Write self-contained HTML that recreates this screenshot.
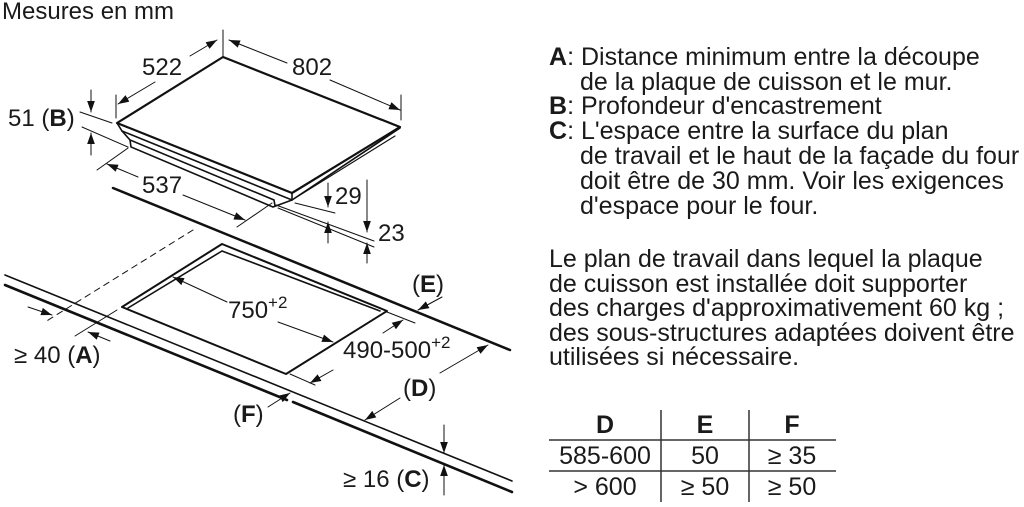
<!DOCTYPE html>
<html><head><meta charset="utf-8"><style>
html,body{margin:0;padding:0;background:#fff;}
svg{display:block;}
text{font-family:"Liberation Sans",Arial,sans-serif;fill:#1a1a1a;}
</style></head><body>
<svg width="1024" height="507" viewBox="0 0 1024 507" xmlns="http://www.w3.org/2000/svg">
<defs>
<marker id="a" viewBox="0 0 10 10" refX="10" refY="5" markerWidth="11" markerHeight="11" markerUnits="userSpaceOnUse" orient="auto"><path d="M0,1.5 L10,5 L0,8.5z" fill="#111"/></marker>
</defs>
<text x="2" y="19" font-size="24">Mesures en mm</text>

<g stroke="#111" fill="none" stroke-linecap="round">
<!-- hob top -->
<path d="M223,57 L400,127 L292,193 L117,123 Z" stroke-width="2.2" stroke-linejoin="round"/>
<path d="M117,123 L122,131 L292,200 L400,128" stroke-width="1.6"/>
<path d="M292,193 L292,200" stroke-width="1.6"/>
<path d="M122,131 L130,140 L274,200 L275,206" stroke-width="1.6"/>
<path d="M130,140 L131,147 L273,207 L292,200" stroke-width="1.6"/>
<path d="M395,136 L292,200" stroke-width="1.2"/>
<!-- dims 522 / 802 -->
<path d="M223,30 L223,57" stroke-width="1"/>
<path d="M116,95 L116,118" stroke-width="1"/>
<path d="M401,95 L401,120" stroke-width="1"/>
<path d="M190,56 L217,40" stroke-width="1" marker-end="url(#a)"/>
<path d="M155,82 L118,104" stroke-width="1" marker-end="url(#a)"/>
<path d="M287,63 L229,40" stroke-width="1" marker-end="url(#a)"/>
<path d="M330,80 L400,110" stroke-width="1" marker-end="url(#a)"/>
<!-- 51 B -->
<path d="M80,112 L112,123" stroke-width="1"/>
<path d="M82,127 L128,147" stroke-width="1"/>
<path d="M91,90 L91,112" stroke-width="1" marker-end="url(#a)"/>
<path d="M91,155 L91,133" stroke-width="1" marker-end="url(#a)"/>
<!-- 537 -->
<path d="M97,170 L128,148" stroke-width="1"/>
<path d="M237,227 L272,203" stroke-width="1"/>
<path d="M138,177 L107,164" stroke-width="1" marker-end="url(#a)"/>
<path d="M183,195 L245,220" stroke-width="1" marker-end="url(#a)"/>
<!-- 29 / 23 -->
<path d="M295,203 L335,213" stroke-width="1"/>
<path d="M276,205 L374,241" stroke-width="1"/>
<path d="M278,208 L374,247" stroke-width="1"/>
<path d="M328,183 L328,207" stroke-width="1" marker-end="url(#a)"/>
<path d="M328,243 L328,222" stroke-width="1" marker-end="url(#a)"/>
<path d="M367,180 L367,232" stroke-width="1" marker-end="url(#a)"/>
<path d="M367,263 L367,243" stroke-width="1" marker-end="url(#a)"/>
<!-- worktop back -->
<path d="M113,188 L510,350" stroke-width="2.5"/>
<!-- dashed -->
<path d="M193,230 L45,322" stroke-width="1" stroke-dasharray="6,5"/>
<!-- front worktop -->
<path d="M5,275 L512,481" stroke-width="1.6"/>
<path d="M5,285 L287,400 M293,402 L512,492" stroke-width="2.6"/>
<!-- cutout -->
<path d="M222,244 L387,311 L286,374 L122,307 Z" stroke-width="2" stroke-linejoin="round"/>
<path d="M222,251 L380,311 M222,251 L128,308" stroke-width="1.6"/>
<!-- 750 -->
<path d="M227,302 L173,277" stroke-width="1" marker-end="url(#a)"/>
<path d="M278,322 L333,342" stroke-width="1" marker-end="url(#a)"/>
<!-- 490-500 -->
<path d="M387,312 L415,323" stroke-width="1"/>
<path d="M290,374 L315,385" stroke-width="1"/>
<path d="M383,333 L403,320" stroke-width="1" marker-end="url(#a)"/>
<path d="M333,370 L310,383" stroke-width="1" marker-end="url(#a)"/>
<!-- E -->
<path d="M442,297 L418,310" stroke-width="1" marker-end="url(#a)"/>
<!-- D -->
<path d="M440,373 L488,345" stroke-width="1" marker-end="url(#a)"/>
<path d="M400,398 L365,420" stroke-width="1" marker-end="url(#a)"/>
<!-- F -->
<path d="M268,407 L290,393" stroke-width="1" marker-end="url(#a)"/>
<!-- A -->
<path d="M28,307 L52,315" stroke-width="1" marker-end="url(#a)"/>
<path d="M75,336 L117,310" stroke-width="1"/>
<path d="M110,341 L88,332" stroke-width="1" marker-end="url(#a)"/>
<!-- C -->
<path d="M444,425 L444,453" stroke-width="1" marker-end="url(#a)"/>
<path d="M444,495 L444,465" stroke-width="1" marker-end="url(#a)"/>
</g>

<g font-size="24">
<text x="142" y="75">522</text>
<text x="292" y="75">802</text>
<text x="8" y="126">51 (<tspan font-weight="bold">B</tspan>)</text>
<text x="142" y="193">537</text>
<text x="335" y="204">29</text>
<text x="378" y="241">23</text>
<text x="228" y="318">750<tspan font-size="17" dy="-10">+2</tspan></text>
<text x="343" y="358">490-500<tspan font-size="17" dy="-10">+2</tspan></text>
<text x="412" y="292">(<tspan font-weight="bold">E</tspan>)</text>
<text x="403" y="396">(<tspan font-weight="bold">D</tspan>)</text>
<text x="233" y="422">(<tspan font-weight="bold">F</tspan>)</text>
<text x="14" y="363">≥ 40 (<tspan font-weight="bold">A</tspan>)</text>
<text x="343" y="487">≥ 16 (<tspan font-weight="bold">C</tspan>)</text>
</g>

<g font-size="25">
<text x="549" y="65"><tspan font-weight="bold">A</tspan>: Distance minimum entre la découpe</text>
<text x="580" y="90">de la plaque de cuisson et le mur.</text>
<text x="549" y="114"><tspan font-weight="bold">B</tspan>: Profondeur d'encastrement</text>
<text x="549" y="139"><tspan font-weight="bold">C</tspan>: L'espace entre la surface du plan</text>
<text x="580" y="164">de travail et le haut de la façade du four</text>
<text x="580" y="189">doit être de 30 mm. Voir les exigences</text>
<text x="580" y="214">d'espace pour le four.</text>
<text x="549" y="267">Le plan de travail dans lequel la plaque</text>
<text x="549" y="292">de cuisson est installée doit supporter</text>
<text x="549" y="316">des charges d'approximativement 60 kg ;</text>
<text x="549" y="341">des sous-structures adaptées doivent être</text>
<text x="549" y="365">utilisées si nécessaire.</text>
</g>

<g stroke="#333" stroke-width="1.5">
<line x1="549" y1="440" x2="836" y2="440"/>
<line x1="549" y1="471" x2="836" y2="471"/>
<line x1="661" y1="410" x2="661" y2="502"/>
<line x1="749" y1="410" x2="749" y2="502"/>
</g>
<g font-size="25" text-anchor="middle">
<text x="605" y="433" font-weight="bold">D</text>
<text x="705" y="433" font-weight="bold">E</text>
<text x="792" y="433" font-weight="bold">F</text>
<text x="605" y="464">585-600</text>
<text x="705" y="464">50</text>
<text x="792" y="464">≥ 35</text>
<text x="605" y="495">&gt; 600</text>
<text x="705" y="495">≥ 50</text>
<text x="792" y="495">≥ 50</text>
</g>
</svg>
</body></html>
